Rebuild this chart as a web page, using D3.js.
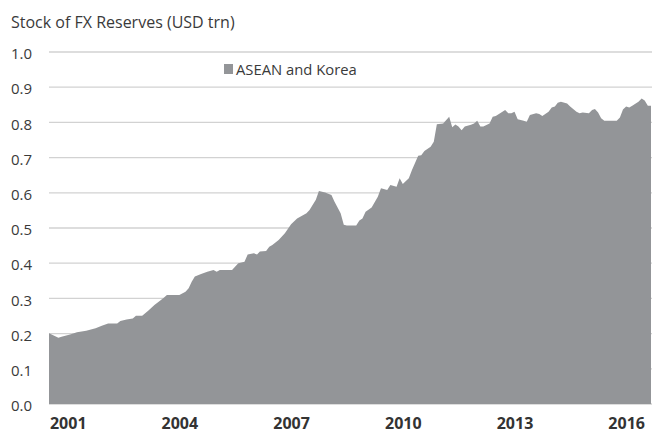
<!DOCTYPE html>
<html>
<head>
<meta charset="utf-8">
<script src="https://cdn.jsdelivr.net/npm/d3@7"></script>
<style>
  html, body { margin: 0; padding: 0; background: #fff; }
  svg { display: block; }
</style>
</head>
<body>
<svg id="chart" width="652" height="433"></svg>
<script>
// Monthly observations of FX reserves, ASEAN and Korea (USD trn)
const months = [
  "2000-07","2000-10","2000-11","2001-02","2001-04","2001-07","2001-10","2001-12",
  "2002-02","2002-05","2002-06","2002-08","2002-10","2002-11","2003-01","2003-03",
  "2003-05","2003-07","2003-08","2003-09","2004-01","2004-03","2004-04","2004-05",
  "2004-06","2004-08","2004-10","2004-12","2005-01","2005-02","2005-06","2005-08",
  "2005-10","2005-11","2006-01","2006-02","2006-03","2006-05","2006-06","2006-07",
  "2006-09","2006-11","2007-01","2007-03","2007-06","2007-07","2007-09","2007-10",
  "2007-12","2008-02","2008-03","2008-05","2008-06","2008-07","2008-10","2008-11",
  "2008-12","2009-01","2009-03","2009-05","2009-06","2009-08","2009-09","2009-11",
  "2009-12","2010-01","2010-03","2010-04","2010-06","2010-07","2010-08","2010-10",
  "2010-11","2010-12","2011-02","2011-04","2011-05","2011-06","2011-07","2011-08",
  "2011-09","2011-11","2011-12","2012-01","2012-02","2012-03","2012-05","2012-06",
  "2012-07","2012-08","2012-10","2012-11","2012-12","2013-01","2013-02","2013-04",
  "2013-05","2013-06","2013-08","2013-09","2013-10","2013-12","2014-01","2014-02",
  "2014-03","2014-04","2014-06","2014-07","2014-09","2014-10","2014-11","2015-01",
  "2015-02","2015-03","2015-04","2015-05","2015-06","2015-10","2015-11","2015-12",
  "2016-01","2016-02","2016-03","2016-05","2016-06","2016-07","2016-08","2016-09"
];
const reserves = [
  0.201,0.188,0.191,0.198,0.204,0.208,0.215,0.222,
  0.229,0.229,0.236,0.240,0.243,0.251,0.251,0.265,
  0.281,0.295,0.302,0.310,0.310,0.319,0.329,0.347,
  0.362,0.369,0.376,0.381,0.376,0.381,0.381,0.400,
  0.404,0.425,0.428,0.425,0.433,0.435,0.447,0.452,
  0.466,0.485,0.511,0.527,0.542,0.551,0.580,0.605,
  0.601,0.594,0.575,0.542,0.509,0.507,0.507,0.521,
  0.527,0.546,0.558,0.589,0.613,0.608,0.622,0.617,
  0.641,0.625,0.641,0.665,0.705,0.707,0.719,0.731,
  0.745,0.795,0.797,0.816,0.786,0.794,0.788,0.778,
  0.788,0.793,0.797,0.805,0.788,0.788,0.797,0.816,
  0.818,0.824,0.835,0.826,0.826,0.830,0.809,0.805,
  0.802,0.821,0.826,0.824,0.818,0.830,0.842,0.845,
  0.856,0.859,0.854,0.845,0.830,0.826,0.828,0.826,
  0.835,0.838,0.828,0.812,0.805,0.805,0.814,0.837,
  0.845,0.842,0.847,0.859,0.868,0.862,0.847,0.847
];
const yTicks = [0.0,0.1,0.2,0.3,0.4,0.5,0.6,0.7,0.8,0.9,1.0];
const yearTicks = [2001,2004,2007,2010,2013,2016];
const seriesName = "ASEAN and Korea";
const title = "Stock of FX Reserves (USD trn)";

const parseMonth = d3.timeParse("%Y-%m");
const data = months.map((m, i) => ({ date: parseMonth(m), value: reserves[i] }));

const svg = d3.select("#chart");
const plotLeft = 49, plotRight = 651, plotTop = 52, plotBottom = 404;
const areaColor = "#939598";
const font = "'Open Sans', sans-serif";

const x = d3.scaleTime()
  .domain(d3.extent(data, d => d.date))
  .range([plotLeft, plotRight]);
const y = d3.scaleLinear().domain([0, 1]).range([plotBottom, plotTop]);

// horizontal gridlines behind the area
svg.append("g")
  .selectAll("line")
  .data(yTicks)
  .join("line")
  .attr("x1", plotLeft).attr("x2", 652)
  .attr("y1", d => y(d)).attr("y2", d => y(d))
  .attr("stroke", "#d2d2d2")
  .attr("stroke-width", 1.3);

// filled area
svg.append("path")
  .datum(data)
  .attr("fill", areaColor)
  .attr("d", d3.area()
    .x(d => x(d.date))
    .y0(y(0))
    .y1(d => y(d.value)));

// y axis labels
const yAxis = svg.append("g")
  .call(d3.axisLeft(y).tickValues(yTicks).tickFormat(d3.format(".1f")).tickSize(0));
yAxis.select(".domain").remove();
yAxis.selectAll("text")
  .attr("x", 11).attr("dy", "0.45em")
  .attr("text-anchor", "start")
  .attr("fill", "#3a3a3a")
  .style("font-family", font).style("font-size", "15px");

// x axis year labels
const xAxis = svg.append("g")
  .attr("transform", `translate(0,${plotBottom})`)
  .call(d3.axisBottom(x)
    .tickValues(yearTicks.map(yr => new Date(yr, 0, 1)))
    .tickFormat(d3.timeFormat("%Y"))
    .tickSize(0));
xAxis.select(".domain").remove();
xAxis.selectAll("text")
  .attr("y", 25).attr("dy", "0")
  .attr("fill", "#333")
  .style("font-family", font).style("font-size", "16px").style("font-weight", "700");

// title
svg.append("text")
  .attr("x", 11).attr("y", 28)
  .attr("fill", "#3a3a3a")
  .style("font-family", font).style("font-size", "16px")
  .text(title);

// legend
const legend = svg.append("g").attr("transform", "translate(224,64)");
legend.append("rect").attr("width", 9).attr("height", 10).attr("fill", areaColor);
legend.append("text")
  .attr("x", 12).attr("y", 11)
  .attr("fill", "#3a3a3a")
  .style("font-family", font).style("font-size", "14.8px")
  .text(seriesName);
</script>
</body>
</html>
